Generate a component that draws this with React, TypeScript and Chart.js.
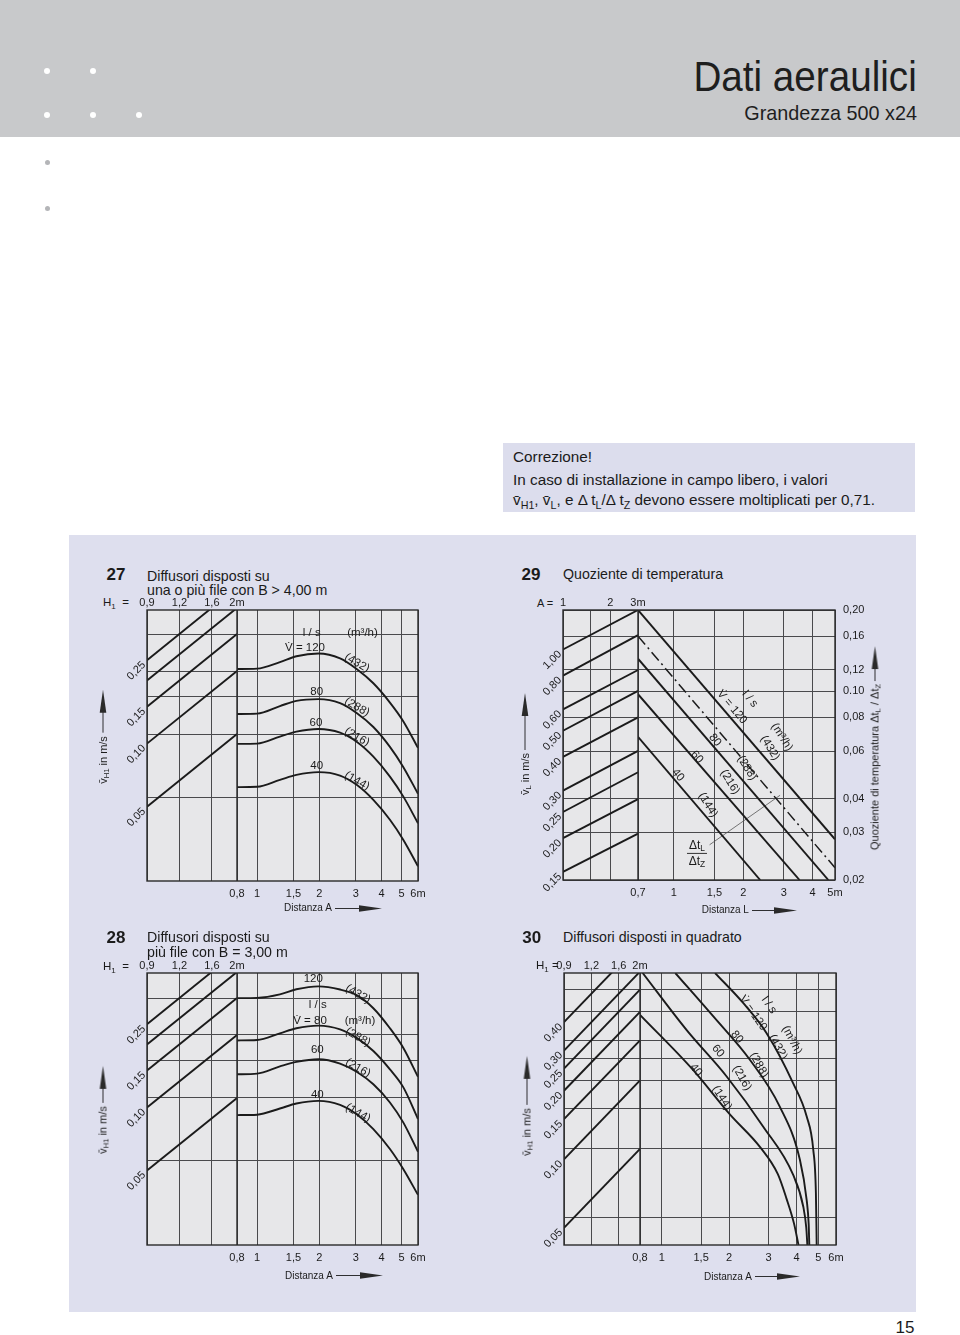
import React, { useEffect, useRef } from 'react';
import { Chart, registerables } from 'chart.js';

Chart.register(...registerables);

// ---------------- shared tick values / labels ----------------
const h1Ticks = [0.9, 1.2, 1.6, 2];
const h1Labels = ['0,9', '1,2', '1,6', '2m'];
const distATicks = [0.8, 1, 1.5, 2, 3, 4, 5, 6];
const distALabels = ['0,8', '1', '1,5', '2', '3', '4', '5', '6m'];

// ---------------- Chart 27 ----------------
const c27LeftStart = [0.25, 0.2, 0.15, 0.1, 0.05];
const c27LeftEnd = [0.556, 0.444, 0.333, 0.222, 0.111];
const c27LeftLabels = ['0,25', '', '0,15', '0,10', '0,05'];
const c27GridV = [0.0556, 0.111, 0.167, 0.222, 0.333];
const c27Dist = [0.8, 1.0, 1.29, 1.55, 1.98, 2.52, 3.03, 3.65, 4.39, 5.09, 6.0];
const c27V120 = [0.227, 0.228, 0.245, 0.261, 0.269, 0.255, 0.227, 0.194, 0.157, 0.128, 0.0954];
const c27V80 = [0.1385, 0.139, 0.151, 0.16, 0.163, 0.156, 0.14, 0.12, 0.0965, 0.0774, 0.0576];
const c27V60 = [0.0997, 0.1, 0.108, 0.114, 0.1174, 0.1127, 0.102, 0.0866, 0.0696, 0.056, 0.0417];
const c27V40 = [0.062, 0.0622, 0.0671, 0.0709, 0.0731, 0.0704, 0.0636, 0.0539, 0.0433, 0.0348, 0.026];

// ---------------- Chart 28 ----------------
const c28LeftStart = [0.25, 0.2, 0.15, 0.1, 0.05];
const c28LeftEnd = [0.556, 0.444, 0.333, 0.222, 0.111];
const c28LeftLabels = ['0,25', '', '0,15', '0,10', '0,05'];
const c28GridV = [0.0556, 0.111, 0.167, 0.222, 0.333];
const c28Dist = [0.8, 1.0, 1.29, 1.55, 1.98, 2.52, 3.03, 3.65, 4.39, 5.09, 6.0];
const c28V120 = [0.333, 0.334, 0.347, 0.367, 0.379, 0.366, 0.344, 0.298, 0.239, 0.193, 0.14];
const c28V80 = [0.209, 0.21, 0.226, 0.239, 0.246, 0.236, 0.215, 0.186, 0.152, 0.125, 0.088];
const c28V60 = [0.144, 0.145, 0.157, 0.165, 0.17, 0.162, 0.148, 0.129, 0.1056, 0.0848, 0.0614];
const c28V40 = [0.0919, 0.0923, 0.0988, 0.1044, 0.1075, 0.1028, 0.0928, 0.0788, 0.0633, 0.0508, 0.0382];

// ---------------- Chart 29 ----------------
const c29ATicks = [1, 1.5, 2, 3];
const c29ALabels = ['1', '', '2', '3m'];
const c29LTicks = [0.7, 1, 1.5, 2, 3, 4, 5];
const c29LLabels = ['0,7', '1', '1,5', '2', '3', '4', '5m'];
const c29RatioTicks = [0.2, 0.16, 0.12, 0.1, 0.08, 0.06, 0.04, 0.03, 0.02];
const c29RatioLabels = ['0,20', '0,16', '0,12', '0.10', '0,08', '0,06', '0,04', '0,03', '0,02'];
const c29LeftStart = [1.0, 0.8, 0.6, 0.5, 0.4, 0.3, 0.25, 0.2, 0.15];
const c29LeftEnd = [1.4, 1.13, 0.839, 0.702, 0.56, 0.421, 0.351, 0.279, 0.208];
const c29LeftLabels = ['1,00', '0,80', '0,60', '0,50', '0,40', '0,30', '0,25', '0,20', '0,15'];
const c29Dist120 = [0.7, 5];
const c29Ratio120 = [0.2, 0.0283];
const c29DistDash = [0.7, 5];
const c29RatioDash = [0.16, 0.0222];
const c29Dist80 = [0.7, 4.68];
const c29Ratio80 = [0.132, 0.02];
const c29Dist60 = [0.7, 3.51];
const c29Ratio60 = [0.0975, 0.02];
const c29Dist40 = [0.7, 2.37];
const c29Ratio40 = [0.0678, 0.02];
const c29LeaderDist = [1.43, 2.89];
const c29LeaderRatio = [0.027, 0.0412];

// ---------------- Chart 30 ----------------
const c30LeftStart = [0.4, 0.3, 0.25, 0.2, 0.15, 0.1, 0.05];
const c30LeftEnd = [0.889, 0.667, 0.556, 0.444, 0.333, 0.222, 0.111];
const c30LeftLabels = ['0,40', '0,30', '0,25', '0,20', '0,15', '0,10', '0,05'];
const c30GridV = [0.0556, 0.111, 0.167, 0.222, 0.278, 0.333, 0.444, 0.556];
const c30Dist40 = [0.8, 1.38, 2.02, 2.75, 3.3, 3.61, 3.9, 4.08];
const c30V40 = [0.431, 0.247, 0.157, 0.113, 0.086, 0.067, 0.052, 0.042];
const c30Dist60 = [0.822, 1.29, 1.95, 2.84, 3.86, 4.29, 4.42, 4.47];
const c30V60 = [0.658, 0.37, 0.231, 0.139, 0.0855, 0.0617, 0.05, 0.042];
const c30Dist80 = [1.15, 1.7, 2.48, 3.37, 4.14, 4.44, 4.53, 4.56];
const c30V80 = [0.658, 0.424, 0.273, 0.17, 0.0995, 0.066, 0.052, 0.042];
const c30Dist120 = [1.73, 2.31, 2.94, 3.86, 4.44, 4.75, 4.88, 4.92];
const c30V120 = [0.658, 0.486, 0.358, 0.216, 0.154, 0.11, 0.0709, 0.042];

// ---------------- styling ----------------
const FONT = '"Liberation Sans", Arial, Helvetica, sans-serif';
const INK = '#1b1b1b';
const GRID = '#4a4a4d';
const PLOT_BG = '#e7e7e9';
const PANEL_BG = '#dedfee';
const HEADER_BG = '#c8c9cb';
const PADL = 55;
const PADR = 25;
const TOP_H = 22;
const BOT_H = 24;
const RIGHT_W = 48;

type Curve = { x: number[]; y: number[]; dash?: number[]; width?: number; color?: string; smooth?: boolean };
type Axis = { min: number; max: number; ticks: number[]; labels: string[] };
type Spec = {
  area: { l: number; t: number; r: number; b: number };
  split: [number, number];
  top: Axis;
  bottom: Axis;
  y?: { min: number; max: number; grid: number[] };
  yLeft?: { min: number; max: number };
  yRight?: Axis;
  left: { x0: number; x1: number; start: number[]; end: number[]; labels: string[] };
  curves: Curve[];
};

function decor(spec: Spec) {
  return {
    id: 'nomoDecor',
    beforeDraw(chart: any) {
      const { ctx, chartArea: a } = chart;
      ctx.save();
      ctx.fillStyle = PLOT_BG;
      ctx.fillRect(a.left, a.top, a.right - a.left, a.bottom - a.top);
      ctx.restore();
    },
    afterDraw(chart: any) {
      const { ctx, chartArea: a } = chart;
      ctx.save();
      ctx.strokeStyle = '#2a2a2a';
      ctx.lineWidth = 1.4;
      ctx.strokeRect(a.left, a.top, a.right - a.left, a.bottom - a.top);
      const xr = chart.scales.xR;
      ctx.beginPath();
      ctx.moveTo(xr.left, a.top);
      ctx.lineTo(xr.left, a.bottom);
      ctx.stroke();
      const ys = chart.scales[spec.yRight ? 'yL' : 'y'];
      ctx.fillStyle = INK;
      ctx.font = `11px ${FONT}`;
      ctx.textAlign = 'right';
      ctx.textBaseline = 'middle';
      spec.left.start.forEach((v, i) => {
        const lab = spec.left.labels[i];
        if (!lab) return;
        const y = ys.getPixelForValue(v);
        ctx.save();
        ctx.translate(a.left - 3, y + 3);
        ctx.rotate(-Math.PI / 4);
        ctx.fillText(lab, 0, 0);
        ctx.restore();
      });
      ctx.restore();
    },
  };
}

function buildConfig(spec: Spec, padR: number): any {
  const tickFont = { family: FONT, size: 11 };
  const setTicks = (vals: number[]) => (axis: any) => {
    axis.ticks = vals.map((v) => ({ value: v }));
  };
  const fixH = (h: number) => (axis: any) => {
    axis.height = h;
  };
  const fixW = (w: number) => (axis: any) => {
    axis.width = w;
  };
  const hidden = { ticks: { display: false }, grid: { display: false }, border: { display: false } };
  const gridOpt = { color: GRID, lineWidth: 1, drawTicks: false };
  const scales: any = {
    xLb: {
      type: 'logarithmic', axis: 'x', position: 'bottom', stack: 'b', stackWeight: spec.split[0], bounds: 'data',
      min: spec.top.min, max: spec.top.max, ...hidden, afterFit: fixH(BOT_H),
    },
    xR: {
      type: 'logarithmic', axis: 'x', position: 'bottom', stack: 'b', stackWeight: spec.split[1], bounds: 'data',
      min: spec.bottom.min, max: spec.bottom.max, afterBuildTicks: setTicks(spec.bottom.ticks),
      ticks: {
        autoSkip: false, maxRotation: 0, minRotation: 0, padding: 6, color: INK, font: tickFont,
        callback: (_v: any, i: number) => spec.bottom.labels[i],
      },
      grid: gridOpt, border: { display: false }, afterFit: fixH(BOT_H),
    },
    xRt: {
      type: 'logarithmic', axis: 'x', position: 'top', stack: 't', stackWeight: spec.split[1], bounds: 'data',
      min: spec.bottom.min, max: spec.bottom.max, ...hidden, afterFit: fixH(TOP_H),
    },
    xLt: {
      type: 'logarithmic', axis: 'x', position: 'top', stack: 't', stackWeight: spec.split[0], bounds: 'data',
      min: spec.top.min, max: spec.top.max, afterBuildTicks: setTicks(spec.top.ticks),
      ticks: {
        autoSkip: false, maxRotation: 0, minRotation: 0, padding: 0, color: INK, font: tickFont,
        callback: (_v: any, i: number) => spec.top.labels[i],
      },
      grid: gridOpt, border: { display: false }, afterFit: fixH(TOP_H),
    },
  };
  let leftY = 'y';
  let curveY = 'y';
  if (spec.yRight && spec.yLeft) {
    leftY = 'yL';
    curveY = 'yR';
    scales.yL = {
      type: 'logarithmic', axis: 'y', position: 'left', display: false, bounds: 'data',
      min: spec.yLeft.min, max: spec.yLeft.max,
    };
    const yr = spec.yRight;
    scales.yR = {
      type: 'logarithmic', axis: 'y', position: 'right', bounds: 'data', min: yr.min, max: yr.max,
      afterBuildTicks: setTicks(yr.ticks),
      ticks: { autoSkip: false, padding: 8, color: INK, font: tickFont, callback: (_v: any, i: number) => yr.labels[i] },
      grid: gridOpt, border: { display: false }, afterFit: fixW(RIGHT_W),
    };
  } else if (spec.y) {
    scales.y = {
      type: 'logarithmic', axis: 'y', position: 'left', bounds: 'data', min: spec.y.min, max: spec.y.max,
      afterBuildTicks: setTicks(spec.y.grid), ticks: { display: false }, grid: gridOpt,
      border: { display: false }, afterFit: fixW(0),
    };
  }
  const datasets: any[] = [];
  spec.left.start.forEach((v, i) => {
    datasets.push({
      xAxisID: 'xLt', yAxisID: leftY,
      data: [{ x: spec.left.x0, y: v }, { x: spec.left.x1, y: spec.left.end[i] }],
      borderColor: INK, borderWidth: 1.9, pointRadius: 0, tension: 0,
    });
  });
  spec.curves.forEach((c) => {
    datasets.push({
      xAxisID: 'xR', yAxisID: curveY,
      data: c.x.map((x, i) => ({ x, y: c.y[i] })),
      borderColor: c.color || INK, borderWidth: c.width || 1.9, borderDash: c.dash || [],
      pointRadius: 0,
      cubicInterpolationMode: c.smooth ? 'monotone' : 'default',
      tension: c.smooth ? 0.4 : 0,
    });
  });
  return {
    type: 'line',
    data: { datasets },
    options: {
      responsive: false, maintainAspectRatio: false, animation: false, devicePixelRatio: 1, events: [],
      layout: { padding: { left: PADL, right: padR, top: 0, bottom: 0 } },
      plugins: { legend: { display: false }, tooltip: { enabled: false }, title: { display: false } },
      scales,
    },
    plugins: [decor(spec)],
  };
}

function NomoChart({ spec }: { spec: Spec }) {
  const ref = useRef<HTMLCanvasElement | null>(null);
  const { l, t, r, b } = spec.area;
  const padR = spec.yRight ? 2 : PADR;
  const rightW = spec.yRight ? RIGHT_W : 0;
  const w = r - l + PADL + padR + rightW;
  const h = b - t + TOP_H + BOT_H;
  useEffect(() => {
    const chart = new Chart(ref.current as HTMLCanvasElement, buildConfig(spec, padR));
    return () => chart.destroy();
  }, []);
  return (
    <canvas ref={ref} width={w} height={h}
      style={{ position: 'absolute', left: l - PADL, top: t - TOP_H, width: w, height: h, display: 'block' }} />
  );
}

// ---------------- chart specs ----------------
const spec27: Spec = {
  area: { l: 147, t: 610, r: 418, b: 881 },
  split: [90, 181],
  top: { min: 0.9, max: 2, ticks: h1Ticks, labels: h1Labels },
  bottom: { min: 0.8, max: 6, ticks: distATicks, labels: distALabels },
  y: { min: 0.0221, max: 0.434, grid: c27GridV },
  left: { x0: 0.9, x1: 2, start: c27LeftStart, end: c27LeftEnd, labels: c27LeftLabels },
  curves: [
    { x: c27Dist, y: c27V120, smooth: true },
    { x: c27Dist, y: c27V80, smooth: true },
    { x: c27Dist, y: c27V60, smooth: true },
    { x: c27Dist, y: c27V40, smooth: true },
  ],
};
const spec28: Spec = {
  area: { l: 147, t: 973, r: 418, b: 1245 },
  split: [90, 181],
  top: { min: 0.9, max: 2, ticks: h1Ticks, labels: h1Labels },
  bottom: { min: 0.8, max: 6, ticks: distATicks, labels: distALabels },
  y: { min: 0.022, max: 0.439, grid: c28GridV },
  left: { x0: 0.9, x1: 2, start: c28LeftStart, end: c28LeftEnd, labels: c28LeftLabels },
  curves: [
    { x: c28Dist, y: c28V120, smooth: true },
    { x: c28Dist, y: c28V80, smooth: true },
    { x: c28Dist, y: c28V60, smooth: true },
    { x: c28Dist, y: c28V40, smooth: true },
  ],
};
const spec29: Spec = {
  area: { l: 563, t: 610, r: 835, b: 880 },
  split: [75, 197],
  top: { min: 1, max: 3, ticks: c29ATicks, labels: c29ALabels },
  bottom: { min: 0.7, max: 5, ticks: c29LTicks, labels: c29LLabels },
  yLeft: { min: 0.14, max: 1.4 },
  yRight: { min: 0.02, max: 0.2, ticks: c29RatioTicks, labels: c29RatioLabels },
  left: { x0: 1, x1: 3, start: c29LeftStart, end: c29LeftEnd, labels: c29LeftLabels },
  curves: [
    { x: c29Dist120, y: c29Ratio120 },
    { x: c29DistDash, y: c29RatioDash, dash: [11, 4, 2, 4], width: 1.5 },
    { x: c29Dist80, y: c29Ratio80 },
    { x: c29Dist60, y: c29Ratio60 },
    { x: c29Dist40, y: c29Ratio40 },
    { x: c29LeaderDist, y: c29LeaderRatio, width: 0.8, color: '#555' },
  ],
};
const spec30: Spec = {
  area: { l: 564, t: 973, r: 836, b: 1245 },
  split: [76, 196],
  top: { min: 0.9, max: 2, ticks: h1Ticks, labels: h1Labels },
  bottom: { min: 0.8, max: 6, ticks: distATicks, labels: distALabels },
  y: { min: 0.042, max: 0.658, grid: c30GridV },
  left: { x0: 0.9, x1: 2, start: c30LeftStart, end: c30LeftEnd, labels: c30LeftLabels },
  curves: [
    { x: c30Dist40, y: c30V40, smooth: true },
    { x: c30Dist60, y: c30V60, smooth: true },
    { x: c30Dist80, y: c30V80, smooth: true },
    { x: c30Dist120, y: c30V120, smooth: true },
  ],
};

// ---------------- text helpers ----------------
const Sub = ({ children }: { children: any }) => (
  <span style={{ fontSize: '0.7em', verticalAlign: '-0.3em', lineHeight: 0 }}>{children}</span>
);

function T({ x, y, s = 11.5, r = 0, a = 'c', w = 400, children, style }: any) {
  const tx = a === 'c' ? '-50%' : a === 'r' ? '-100%' : '0';
  return (
    <div style={{
      position: 'absolute', left: x, top: y, transform: `translate(${tx},-50%) rotate(${r}deg)`,
      fontSize: s, lineHeight: 1, whiteSpace: 'nowrap', fontWeight: w, color: INK, ...style,
    }}>{children}</div>
  );
}

function Arrow({ line, head = 23 }: { line: number; head?: number }) {
  return (
    <svg width={line + head} height={9} style={{ display: 'block', marginLeft: 3 }}>
      <line x1={0} y1={4.5} x2={line + 2} y2={4.5} stroke={INK} strokeWidth={0.9} />
      <polygon points={`${line},1.2 ${line + head},4.5 ${line},7.8`} fill="#2a2a2a" />
    </svg>
  );
}

function VTitle({ cx, cy, line, children }: any) {
  return (
    <div style={{
      position: 'absolute', left: cx, top: cy, transform: 'translate(-50%,-50%) rotate(-90deg)',
      display: 'flex', alignItems: 'center', whiteSpace: 'nowrap', fontSize: 11, lineHeight: 1, color: INK,
    }}>
      <span>{children}</span>
      <Arrow line={line} />
    </div>
  );
}

function HTitle({ x, y, line, children }: any) {
  return (
    <div style={{
      position: 'absolute', left: x, top: y, transform: 'translateY(-50%)',
      display: 'flex', alignItems: 'center', whiteSpace: 'nowrap', fontSize: 10, lineHeight: 1, color: INK,
    }}>
      <span>{children}</span>
      <Arrow line={line} />
    </div>
  );
}

const VDOT = 'V\u0307';
const vbar = 'v\u0304';

const notes27 = [
  { t: 'l / s', x: 311.7, y: 633.3 },
  { t: '(m³/h)', x: 362.5, y: 633.3 },
  { t: `${VDOT} = 120`, x: 305, y: 648.3 },
  { t: '(432)', x: 357.3, y: 663.3, r: 30 },
  { t: '80', x: 316.7, y: 691.7 },
  { t: '(288)', x: 357.3, y: 706.7, r: 30 },
  { t: '60', x: 316, y: 723.3 },
  { t: '(216)', x: 356.7, y: 736.7, r: 30 },
  { t: '40', x: 316.7, y: 766 },
  { t: '(144)', x: 357.3, y: 781, r: 30 },
];
const notes28 = [
  { t: '120', x: 313.3, y: 979 },
  { t: '(432)', x: 358.3, y: 994, r: 30 },
  { t: 'l / s', x: 317.7, y: 1005 },
  { t: `${VDOT} = 80`, x: 310, y: 1021 },
  { t: '(m³/h)', x: 360, y: 1021 },
  { t: '(288)', x: 357.7, y: 1037.3, r: 30 },
  { t: '60', x: 317.3, y: 1050 },
  { t: '(216)', x: 357.7, y: 1068.3, r: 30 },
  { t: '40', x: 317.3, y: 1095 },
  { t: '(144)', x: 358.3, y: 1113.3, r: 30 },
];
const notes29 = [
  { t: `${VDOT} = 120`, x: 731.7, y: 706.7, r: 50 },
  { t: 'l / s', x: 750, y: 699, r: 50 },
  { t: '(m³/h)', x: 782, y: 737, r: 58 },
  { t: '(432)', x: 770, y: 748.3, r: 58 },
  { t: '80', x: 715, y: 740, r: 50 },
  { t: '(288)', x: 746.7, y: 768.3, r: 58 },
  { t: '60', x: 696.7, y: 756.7, r: 50 },
  { t: '(216)', x: 730, y: 781.7, r: 58 },
  { t: '40', x: 678.3, y: 775, r: 50 },
  { t: '(144)', x: 708.3, y: 805, r: 58 },
];
const notes30 = [
  { t: `${VDOT} = 120`, x: 753.3, y: 1013.3, r: 55 },
  { t: 'l / s', x: 769, y: 1005, r: 55 },
  { t: '(m³/h)', x: 792, y: 1040, r: 62 },
  { t: '(432)', x: 778.3, y: 1046.7, r: 62 },
  { t: '80', x: 736.7, y: 1037.3, r: 50 },
  { t: '(288)', x: 759.3, y: 1065, r: 60 },
  { t: '60', x: 718.3, y: 1050.7, r: 50 },
  { t: '(216)', x: 741.7, y: 1078.3, r: 60 },
  { t: '40', x: 696, y: 1070, r: 50 },
  { t: '(144)', x: 721.7, y: 1098.3, r: 57 },
];

const Notes = ({ list }: { list: any[] }) => (
  <>
    {list.map((n, i) => (
      <T key={i} x={n.x} y={n.y} r={n.r || 0} s={11.5}>{n.t}</T>
    ))}
  </>
);

export default function App() {
  useEffect(() => {
    document.body.style.margin = '0';
  }, []);
  const dot = (x: number, y: number, c: string, rr = 3) => (
    <div style={{ position: 'absolute', left: x - rr, top: y - rr, width: rr * 2, height: rr * 2, borderRadius: '50%', background: c }} />
  );
  return (
    <div style={{
      position: 'absolute', left: 0, top: 0, width: 960, height: 1335, overflow: 'hidden',
      background: '#ffffff', fontFamily: FONT, color: INK,
    }}>
      {/* header */}
      <div style={{ position: 'absolute', left: 0, top: 0, width: 960, height: 137, background: HEADER_BG }} />
      {dot(47, 71, '#ffffff')}
      {dot(93, 71, '#ffffff')}
      {dot(47, 115, '#ffffff')}
      {dot(93, 115, '#ffffff')}
      {dot(139, 115, '#ffffff')}
      {dot(47, 162, '#b4b5b8', 2.5)}
      {dot(47, 208, '#b4b5b8', 2.5)}
      <div style={{
        position: 'absolute', right: 43, top: 77, transform: 'translateY(-50%) scaleX(0.92)', transformOrigin: 'right center',
        fontSize: 42, lineHeight: 1, whiteSpace: 'nowrap', color: '#1e1e1e',
      }}>Dati aeraulici</div>
      <div style={{
        position: 'absolute', right: 43, top: 113.5, transform: 'translateY(-50%)',
        fontSize: 19.8, lineHeight: 1, whiteSpace: 'nowrap', color: '#1e1e1e',
      }}>Grandezza 500 x24</div>

      {/* correction box */}
      <div style={{ position: 'absolute', left: 503, top: 443, width: 412, height: 69, background: '#dcdded' }} />
      <T x={513} y={457} a="l" s={15.3}>Correzione!</T>
      <T x={513} y={479.5} a="l" s={15.3}>In caso di installazione in campo libero, i valori</T>
      <T x={513} y={499.5} a="l" s={15.3}>
        {vbar}<Sub>H1</Sub>, {vbar}<Sub>L</Sub>, e Δ t<Sub>L</Sub>/Δ t<Sub>Z</Sub> devono essere moltiplicati per 0,71.
      </T>

      {/* panel */}
      <div style={{ position: 'absolute', left: 69, top: 535, width: 847, height: 777, background: PANEL_BG }} />

      {/* chart 27 */}
      <T x={116} y={574} s={17} w={700}>27</T>
      <T x={147} y={575.5} a="l" s={14.2}>Diffusori disposti su</T>
      <T x={147} y={589.5} a="l" s={14.2}>una o più file con B &gt; 4,00 m</T>
      <T x={103} y={603} a="l" s={11.5}>H<Sub>1</Sub>&nbsp; =</T>
      <NomoChart spec={spec27} />
      <Notes list={notes27} />
      <VTitle cx={103} cy={736.5} line={20}>{vbar}<Sub>H1</Sub> in m/s</VTitle>
      <HTitle x={284} y={908} line={24}>Distanza A</HTitle>

      {/* chart 28 */}
      <T x={116} y={936.5} s={17} w={700}>28</T>
      <T x={147} y={937} a="l" s={14.2}>Diffusori disposti su</T>
      <T x={147} y={952} a="l" s={14.2}>più file con B = 3,00 m</T>
      <T x={103} y={967} a="l" s={11.5}>H<Sub>1</Sub>&nbsp; =</T>
      <NomoChart spec={spec28} />
      <Notes list={notes28} />
      <VTitle cx={103} cy={1110} line={14}>{vbar}<Sub>H1</Sub> in m/s</VTitle>
      <HTitle x={285} y={1275.7} line={24}>Distanza A</HTitle>

      {/* chart 29 */}
      <T x={531} y={574} s={17} w={700}>29</T>
      <T x={563} y={574} a="l" s={14.2}>Quoziente di temperatura</T>
      <T x={537} y={603} a="l" s={11}>A =</T>
      <NomoChart spec={spec29} />
      <Notes list={notes29} />
      <div style={{
        position: 'absolute', left: 697, top: 853, transform: 'translate(-50%,-50%)', fontSize: 12, lineHeight: 1.05,
        textAlign: 'center', color: INK,
      }}>
        <div style={{ borderBottom: '1px solid #333', padding: '0 2px 1px' }}>Δt<Sub>L</Sub></div>
        <div style={{ paddingTop: 1 }}>Δt<Sub>Z</Sub></div>
      </div>
      <VTitle cx={525} cy={744} line={34}>{vbar}<Sub>L</Sub> in m/s</VTitle>
      <VTitle cx={875} cy={747.5} line={12}>Quoziente di temperatura Δt<Sub>L</Sub> / Δt<Sub>Z</Sub></VTitle>
      <HTitle x={701.7} y={910} line={22}>Distanza L</HTitle>

      {/* chart 30 */}
      <T x={531.7} y={936.7} s={17} w={700}>30</T>
      <T x={563} y={936.7} a="l" s={14.2}>Diffusori disposti in quadrato</T>
      <T x={536} y={965.5} a="l" s={11.5}>H<Sub>1</Sub> =</T>
      <NomoChart spec={spec30} />
      <Notes list={notes30} />
      <VTitle cx={526.7} cy={1106} line={26}>{vbar}<Sub>H1</Sub> in m/s</VTitle>
      <HTitle x={704} y={1276.7} line={22}>Distanza A</HTitle>

      {/* page number */}
      <T x={905} y={1327} s={17}>15</T>
    </div>
  );
}
